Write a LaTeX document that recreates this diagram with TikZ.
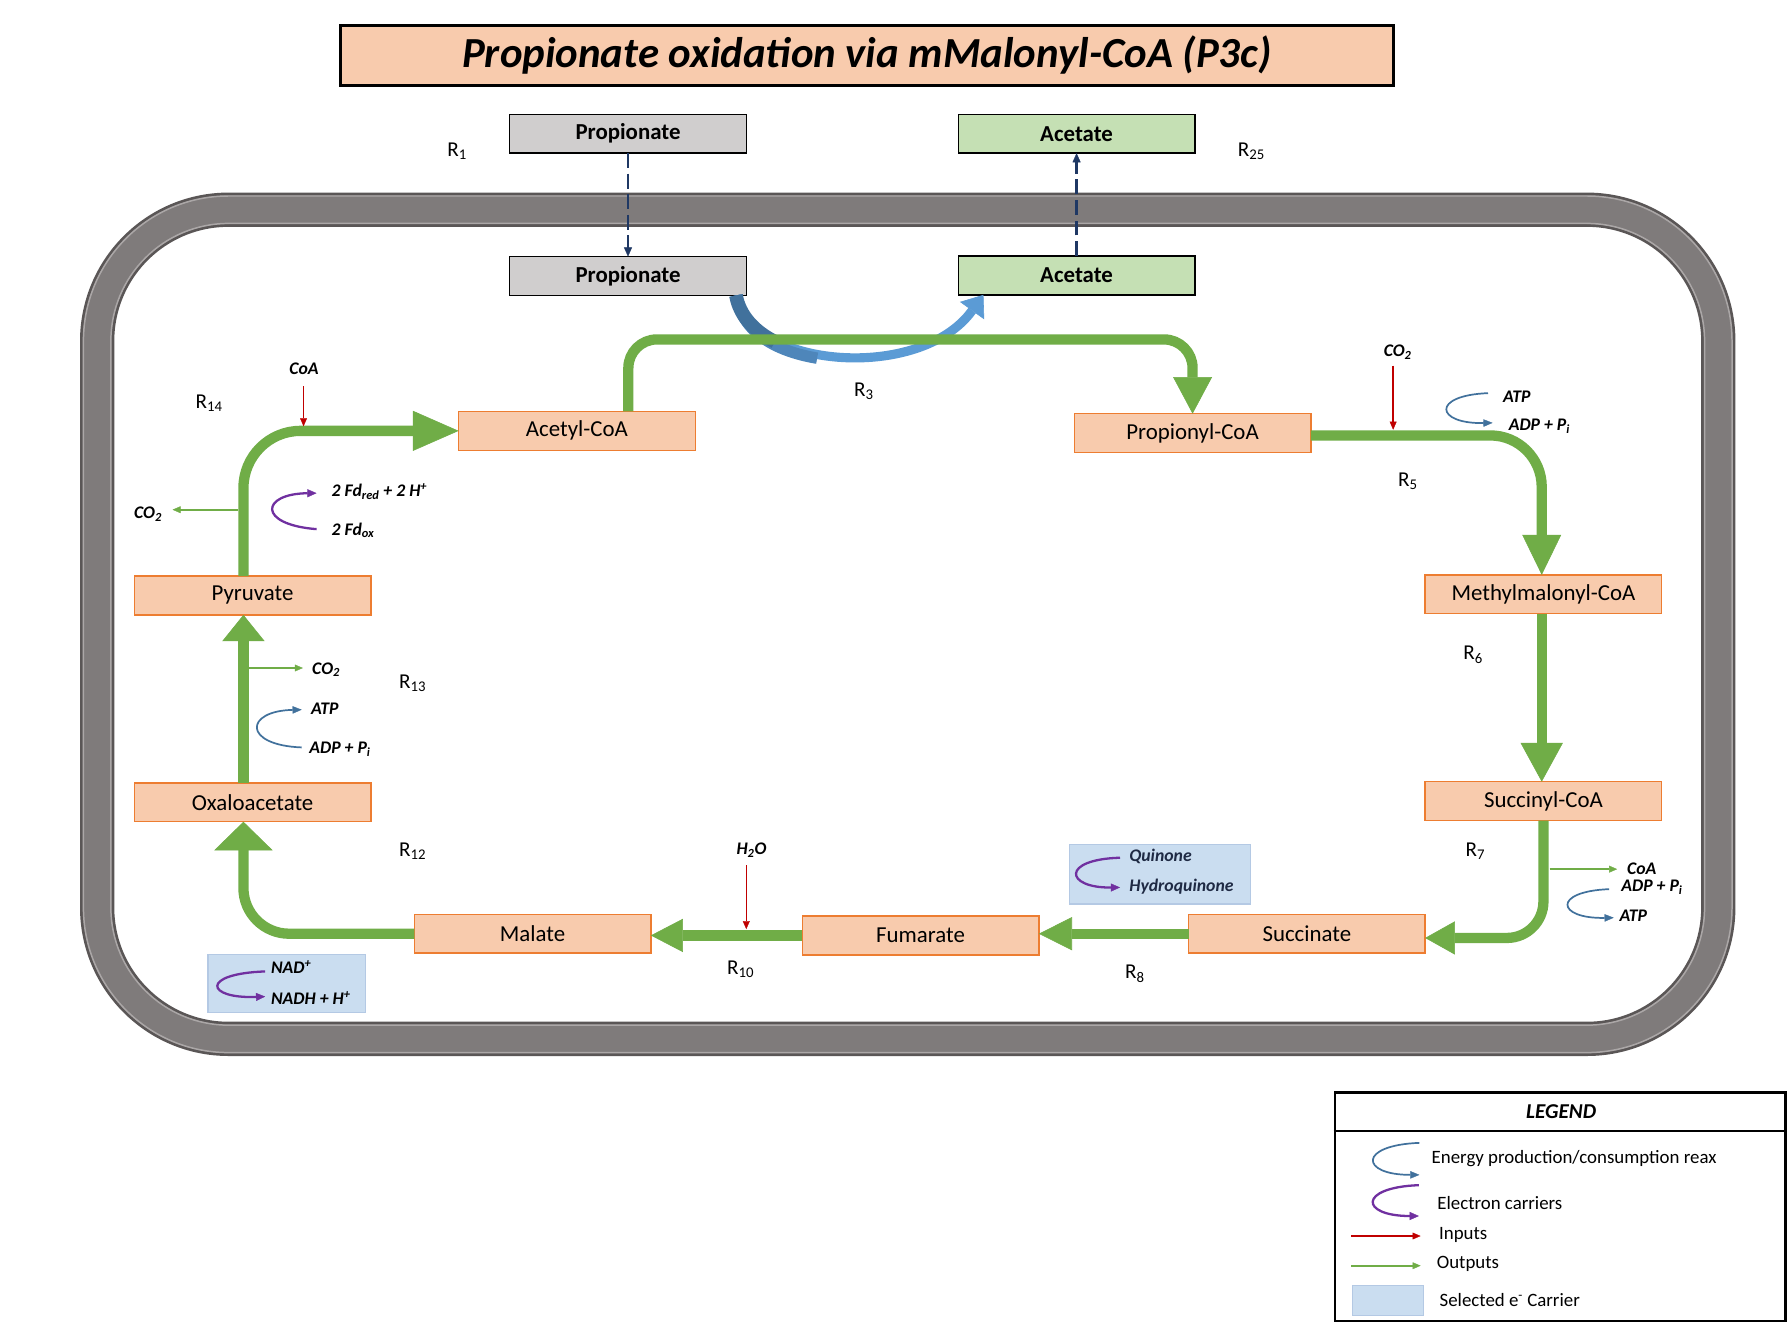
\documentclass[tikz,border=0pt]{standalone}
\usepackage{fontspec}
\setmainfont{Carlito}
\usetikzlibrary{arrows.meta}
\definecolor{peach}{HTML}{F8CBAD}
\definecolor{oborder}{HTML}{ED7D31}
\definecolor{ggreen}{HTML}{70AD47}
\definecolor{boxgray}{HTML}{D0CECE}
\definecolor{boxgreen}{HTML}{C5E0B4}
\definecolor{navy}{HTML}{1F3864}
\definecolor{inred}{HTML}{C00000}
\definecolor{eblue}{HTML}{41719C}
\definecolor{mblue}{HTML}{4E86BA}
\definecolor{lblue}{HTML}{5B9BD5}
\definecolor{epurple}{HTML}{7030A0}
\definecolor{selblue}{HTML}{CADDF0}
\definecolor{selborder}{HTML}{B4C9E4}
\definecolor{memgray}{HTML}{7F7B7B}
\definecolor{memdark}{HTML}{5A5656}
\definecolor{memlight}{HTML}{ABA7A7}
\definecolor{qnavy}{HTML}{1F2A44}
\begin{document}
\begin{tikzpicture}[x=1pt,y=-1pt,
  obox/.style={draw=oborder, line width=1.2pt, fill=peach, minimum width=207pt, minimum height=34pt, inner sep=0pt, outer sep=0pt, font=\fontsize{20}{24}\selectfont},
  tbox/.style={draw=black, line width=1.3pt, minimum width=207pt, minimum height=34pt, inner sep=0pt, outer sep=0pt, font=\fontsize{20}{24}\selectfont\bfseries},
  garrow/.style={draw=ggreen, line width=9pt},
  inarrow/.style={draw=inred, line width=1.3pt, -{Triangle[length=7pt,width=6pt,line width=0.3pt]}},
  outarrow/.style={draw=ggreen, line width=1.5pt, -{Triangle[length=7pt,width=6pt,line width=0.3pt]}},
  ecurve/.style={draw=eblue, line width=1.5pt, -{Triangle[length=8pt,width=6.5pt,line width=0.3pt]}},
  pcurve/.style={draw=epurple, line width=2pt, -{Triangle[length=8pt,width=7pt,line width=0.3pt]}},
  dasharrow/.style={draw=navy, line width=2.4pt, dash pattern=on 13pt off 5pt, -{Triangle[length=8pt,width=7pt,line width=0.3pt]}},
  lab/.style={font=\fontsize{15.5}{18}\selectfont\bfseries\itshape, inner sep=0pt},
  rlab/.style={font=\fontsize{18.5}{21}\selectfont, inner sep=0pt},
  leglab/.style={font=\fontsize{16.5}{19}\selectfont, inner sep=0pt, anchor=west},
  selbox/.style={draw=selborder, line width=1pt, fill=selblue, inner sep=0pt}
]
\useasboundingbox (0,0) rectangle (1568,1158);
\fill[white] (0,0) rectangle (1568,1158);

% membrane
\draw[line width=30pt, memdark, rounded corners=115pt] (85,183.5) rectangle (1503.5,909);
\draw[line width=25pt, memgray, rounded corners=115pt] (85,183.5) rectangle (1503.5,909);
\draw[line width=1.3pt, memlight, rounded corners=103pt] (97,195.5) rectangle (1491.5,897);
\draw[line width=1.3pt, memlight, rounded corners=127pt] (73,171.5) rectangle (1515.5,921);

% title
\node[draw=black, line width=2.5pt, fill=peach, minimum width=921pt, minimum height=53pt, inner sep=0pt, font=\fontsize{37.5}{40}\selectfont\bfseries\itshape] (title) at (758.5,48.5) {Propionate oxidation via mMalonyl-CoA (P3c)};

% exchange boxes
\node[tbox, fill=boxgray] (prop1) at (549.5,117) {Propionate};
\node[tbox, fill=boxgreen] (acet1) at (942,117) {Acetate};
\node[tbox, fill=boxgray] (prop2) at (549.5,241.5) {Propionate};
\node[tbox, fill=boxgreen] (acet2) at (942,241) {Acetate};

% metabolite boxes
\node[obox] (acoa) at (504.8,377) {Acetyl-CoA};
\node[obox] (pcoa) at (1043.5,379) {Propionyl-CoA};
\node[obox] (mcoa) at (1350.5,520) {Methylmalonyl-CoA};
\node[obox] (scoa) at (1350.5,701) {Succinyl-CoA};
\node[obox] (succ) at (1143.5,817) {Succinate};
\node[obox] (fum) at (805.5,818.5) {Fumarate};
\node[obox] (mal) at (466,817) {Malate};
\node[obox] (oxa) at (221,702) {Oxaloacetate};
\node[obox] (pyr) at (221,521) {Pyruvate};

% transport
\draw[dasharrow] (prop1.south) -- (prop2.north);
\draw[dasharrow] (acet2.north) -- (acet1.south);

% R3 blue arrow
\draw[draw=lblue, line width=8pt, -{Triangle[length=17pt,width=26pt,line width=0.5pt]}] ([xshift=-9pt]prop2.south east) .. controls (655,322) and (805,335) .. ([xshift=22pt]acet2.south west);
\draw[draw=mblue, line width=10pt] ([xshift=-9pt]prop2.south east) .. controls (649.5,290.3) and (677,307) .. (715,313.4);
\draw[draw=eblue, line width=12pt] ([xshift=-9pt]prop2.south east) .. controls (647,276) and (660,290) .. (678,299);

% main green pathway
\coordinate (topmid) at (800,297);
\draw[garrow, rounded corners=25pt, -{Triangle[length=32pt,width=34pt,line width=0.5pt]}] ([xshift=45pt]acoa.north) |- (topmid) -| (pcoa.north);
\draw[garrow, rounded corners=45pt, -{Triangle[length=35pt,width=34pt,line width=0.5pt]}] ([yshift=-2pt]pcoa.east) -| ([xshift=-1.5pt]mcoa.north);
\draw[garrow, -{Triangle[length=34pt,width=37pt,line width=0.5pt]}] ([xshift=-1.5pt]mcoa.south) -- ([xshift=-1.5pt]scoa.north);
\draw[garrow, rounded corners=32pt, -{Triangle[length=26pt,width=29pt,line width=0.5pt]}] (scoa.south) |- ([yshift=-3.7pt]succ.east);
\draw[garrow, -{Triangle[length=29pt,width=29pt,line width=0.5pt]}] (succ.west) -- (succ.west -| fum.east);
\draw[garrow, -{Triangle[length=28pt,width=29pt,line width=0.5pt]}] (fum.west) -- (fum.west -| mal.east);
\draw[garrow, rounded corners=40pt, -{Triangle[length=25pt,width=51pt,line width=0.5pt]}] (mal.west) -| ([xshift=-8pt]oxa.south);
\draw[garrow, -{Triangle[length=23pt,width=37pt,line width=0.5pt]}] ([xshift=-8pt]oxa.north) -- ([xshift=-8pt]pyr.south);
\draw[garrow, rounded corners=50pt, -{Triangle[length=40pt,width=35pt,line width=0.5pt]}] ([xshift=-8pt]pyr.north) |- (acoa.west);

% reaction labels
\node[rlab] (r1) at (400,132) {R\textsubscript{1}};
\node[rlab] (r25) at (1095,132) {R\textsubscript{25}};
\node[rlab] (r3) at (756,342) {R\textsubscript{3}};
\node[rlab] (r5) at (1232,421) {R\textsubscript{5}};
\node[rlab] (r6) at (1289,573) {R\textsubscript{6}};
\node[rlab] (r7) at (1291,745) {R\textsubscript{7}};
\node[rlab] (r8) at (993,852) {R\textsubscript{8}};
\node[rlab] (r10) at (648,848) {R\textsubscript{10}};
\node[rlab] (r12) at (361,745) {R\textsubscript{12}};
\node[rlab] (r13) at (361,598) {R\textsubscript{13}};
\node[rlab] (r14) at (183,353) {R\textsubscript{14}};

% R14 side reactions
\node[lab] (coa14) at (266,323) {CoA};
\coordinate (coa14s) at (265.6,338);
\coordinate (coa14e) at (265.6,373);
\draw[inarrow] (coa14s) -- (coa14e);
\node[lab] (co2a) at (129.5,450) {CO\textsubscript{2}};
\coordinate (co2as) at (208,446);
\coordinate (co2ae) at (151,446);
\draw[outarrow] (co2as) -- (co2ae);
\node[lab, anchor=west] (fdred) at (290,430) {2 Fd\textsubscript{red} + 2 H\textsuperscript{+}};
\node[lab, anchor=west] (fdox) at (290,464) {2 Fd\textsubscript{ox}};
\coordinate (fd1) at (277,463);
\coordinate (fd2) at (277,431.5);
\draw[pcurve] (fd1) .. controls (225,459) and (228,432) .. (fd2);

% R13 side reactions
\coordinate (co2bs) at (217,584.5);
\coordinate (co2be) at (265,584.5);
\node[lab, anchor=west] (co2b) at (273,586) {CO\textsubscript{2}};
\draw[outarrow] (co2bs) -- (co2be);
\node[lab, anchor=west] (atp13) at (272,620) {ATP};
\node[lab, anchor=west] (adp13) at (270.5,656) {ADP + P\textsubscript{i}};
\coordinate (e13a) at (264,654);
\coordinate (e13b) at (264,621);
\draw[ecurve] (e13a) .. controls (212,652) and (214,622) .. (e13b);

% R5 side reactions
\node[lab] (co2c) at (1223,308) {CO\textsubscript{2}};
\coordinate (co2cs) at (1219,320);
\coordinate (co2ce) at (1219,376);
\draw[inarrow] (co2cs) -- (co2ce);
\node[lab, anchor=west] (atp5) at (1315,347) {ATP};
\node[lab, anchor=west] (adp5) at (1320,373) {ADP + P\textsubscript{i}};
\coordinate (e5a) at (1302,344);
\coordinate (e5b) at (1306,370);
\draw[ecurve] (e5a) .. controls (1252,346) and (1256,371) .. (e5b);

% R7 side reactions
\coordinate (coa7s) at (1356,760.5);
\coordinate (coa7e) at (1415,760.5);
\node[lab, anchor=west] (coa7) at (1423.5,760) {CoA};
\draw[outarrow] (coa7s) -- (coa7e);
\node[lab, anchor=west] (adp7) at (1418.5,776.5) {ADP + P\textsubscript{i}};
\node[lab, anchor=west] (atp7) at (1417,801.5) {ATP};
\coordinate (e7a) at (1408,778);
\coordinate (e7b) at (1412,803);
\draw[ecurve] (e7a) .. controls (1358,780) and (1362,804) .. (e7b);

% R10 water
\node[lab] (h2o) at (657.5,744) {H\textsubscript{2}O};
\coordinate (h2os) at (653,757);
\coordinate (h2oe) at (653,813);
\draw[inarrow] (h2os) -- (h2oe);

% R8 quinone box
\node[selbox, minimum width=158pt, minimum height=52pt] (qbox) at (1015,765) {};
\node[lab, anchor=west, text=qnavy] (quin) at (988,749.5) {Quinone};
\node[lab, anchor=west, text=qnavy] (hquin) at (988,776) {Hydroquinone};
\coordinate (q1) at (980,750.5);
\coordinate (q2) at (980,776.5);
\draw[pcurve] (q1) .. controls (928,752) and (932,777) .. (q2);

% R12 NAD box
\node[selbox, minimum width=138pt, minimum height=51pt] (nbox) at (251,860.5) {};
\node[lab, anchor=west] (nad) at (237,846) {NAD\textsuperscript{+}};
\node[lab, anchor=west] (nadh) at (237,873.5) {NADH + H\textsuperscript{+}};
\coordinate (n1) at (232,850);
\coordinate (n2) at (232,872);
\draw[pcurve] (n1) .. controls (175,852) and (180,874) .. (n2);

% legend
\node[draw=black, line width=2.2pt, minimum width=394.5pt, minimum height=200pt, inner sep=0pt] (legend) at (1365.25,1056) {};
\coordinate (sep) at (0,989.5);
\draw[line width=2pt] (legend.west |- sep) -- (legend.east |- sep);
\node[font=\fontsize{18.5}{21}\selectfont\bfseries\itshape, inner sep=0pt] (legtitle) at (1366,972.5) {LEGEND};
\coordinate (l1a) at (1242,1000);
\coordinate (l1b) at (1242,1028);
\draw[ecurve] (l1a) .. controls (1188,1002) and (1190,1028) .. (l1b);
\node[leglab] (lt1) at (1252.5,1013.5) {Energy production/consumption reax};
\coordinate (l2a) at (1241.5,1037);
\coordinate (l2b) at (1241.5,1064);
\draw[pcurve] (l2a) .. controls (1188,1039) and (1190,1064) .. (l2b);
\node[leglab] (lt2) at (1257.5,1052.5) {Electron carriers};
\coordinate (l3a) at (1182.5,1081.5);
\coordinate (l3b) at (1243,1081.5);
\draw[inarrow] (l3a) -- (l3b);
\node[leglab] (lt3) at (1259,1081) {Inputs};
\coordinate (l4a) at (1182.5,1107.5);
\coordinate (l4b) at (1243,1107.5);
\draw[outarrow] (l4a) -- (l4b);
\node[leglab] (lt4) at (1257,1105.5) {Outputs};
\node[selbox, minimum width=62.5pt, minimum height=26pt] (lbox) at (1214.5,1138) {};
\node[leglab] (lt5) at (1259.5,1137.5) {Selected e\textsuperscript{-} Carrier};
\end{tikzpicture}
\end{document}
